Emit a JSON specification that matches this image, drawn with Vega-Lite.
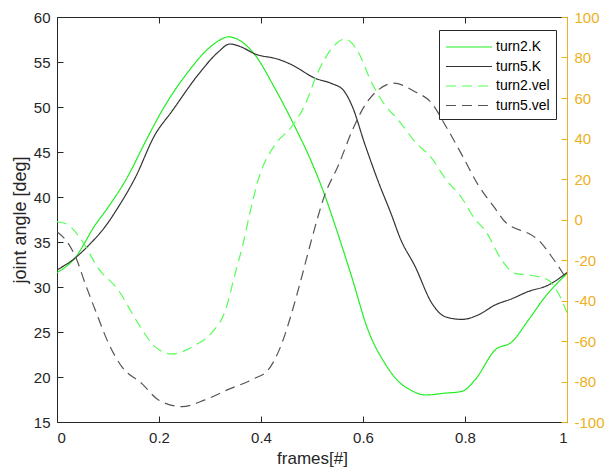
{
  "$schema": "https://vega.github.io/schema/vega-lite/v6.json",
  "width": 510,
  "height": 405,
  "autosize": "none",
  "padding": {"left": 57, "top": 17, "right": 38, "bottom": 49},
  "background": "white",
  "config": {
    "font": "Liberation Sans",
    "view": {"stroke": "#262626", "strokeWidth": 1},
    "axis": {
      "grid": false,
      "zindex": 1,
      "domain": false,
      "domainColor": "#262626",
      "tickColor": "#262626",
      "labelColor": "#262626",
      "titleColor": "#262626",
      "labelFontSize": 15,
      "titleFontSize": 17,
      "titleFontWeight": "normal",
      "tickSize": 6,
      "tickWidth": 1,
      "offset": -6,
      "labelPadding": 7,
      "labelExpr": "toString(datum.value)"
    },
    "legend": {
      "orient": "none",
      "legendX": 382,
      "legendY": 13,
      "strokeColor": "#262626",
      "fillColor": "white",
      "padding": 6,
      "symbolType": "M-1,0H3.6",
      "symbolSize": 400,
      "symbolStrokeWidth": 1.2,
      "labelFontSize": 14,
      "labelColor": "#000000",
      "labelOffset": 29,
      "rowPadding": 1.5,
      "zindex": 2
    }
  },
  "data": {
    "values": [
      {"series": "turn2.K", "frame": 0, "value": 31.6},
      {"series": "turn2.K", "frame": 0.035, "value": 33.2},
      {"series": "turn2.K", "frame": 0.075, "value": 36.9},
      {"series": "turn2.K", "frame": 0.097, "value": 38.6},
      {"series": "turn2.K", "frame": 0.137, "value": 42.1},
      {"series": "turn2.K", "frame": 0.173, "value": 46.1},
      {"series": "turn2.K", "frame": 0.205, "value": 49.5},
      {"series": "turn2.K", "frame": 0.257, "value": 53.9},
      {"series": "turn2.K", "frame": 0.297, "value": 56.5},
      {"series": "turn2.K", "frame": 0.318, "value": 57.4},
      {"series": "turn2.K", "frame": 0.336, "value": 57.8},
      {"series": "turn2.K", "frame": 0.355, "value": 57.5},
      {"series": "turn2.K", "frame": 0.37, "value": 56.9},
      {"series": "turn2.K", "frame": 0.388, "value": 55.8},
      {"series": "turn2.K", "frame": 0.427, "value": 52.1},
      {"series": "turn2.K", "frame": 0.463, "value": 48.2},
      {"series": "turn2.K", "frame": 0.499, "value": 43.9},
      {"series": "turn2.K", "frame": 0.525, "value": 40.2},
      {"series": "turn2.K", "frame": 0.545, "value": 36.9},
      {"series": "turn2.K", "frame": 0.578, "value": 31.1},
      {"series": "turn2.K", "frame": 0.61, "value": 25.2},
      {"series": "turn2.K", "frame": 0.643, "value": 21.5},
      {"series": "turn2.K", "frame": 0.668, "value": 19.6},
      {"series": "turn2.K", "frame": 0.695, "value": 18.5},
      {"series": "turn2.K", "frame": 0.722, "value": 18.0},
      {"series": "turn2.K", "frame": 0.76, "value": 18.2},
      {"series": "turn2.K", "frame": 0.794, "value": 18.4},
      {"series": "turn2.K", "frame": 0.82, "value": 19.7},
      {"series": "turn2.K", "frame": 0.859, "value": 23.0},
      {"series": "turn2.K", "frame": 0.892, "value": 23.9},
      {"series": "turn2.K", "frame": 0.924, "value": 26.3},
      {"series": "turn2.K", "frame": 0.957, "value": 28.9},
      {"series": "turn2.K", "frame": 1.0, "value": 31.5},
      {"series": "turn5.K", "frame": 0, "value": 31.9},
      {"series": "turn5.K", "frame": 0.035, "value": 33.2},
      {"series": "turn5.K", "frame": 0.065, "value": 34.8},
      {"series": "turn5.K", "frame": 0.097, "value": 36.9},
      {"series": "turn5.K", "frame": 0.117, "value": 38.6},
      {"series": "turn5.K", "frame": 0.153, "value": 42.1},
      {"series": "turn5.K", "frame": 0.192, "value": 46.9},
      {"series": "turn5.K", "frame": 0.225, "value": 49.5},
      {"series": "turn5.K", "frame": 0.277, "value": 53.6},
      {"series": "turn5.K", "frame": 0.316, "value": 56.1},
      {"series": "turn5.K", "frame": 0.339, "value": 57.0},
      {"series": "turn5.K", "frame": 0.36, "value": 56.7},
      {"series": "turn5.K", "frame": 0.388, "value": 55.9},
      {"series": "turn5.K", "frame": 0.434, "value": 55.3},
      {"series": "turn5.K", "frame": 0.46, "value": 54.7},
      {"series": "turn5.K", "frame": 0.506, "value": 53.2},
      {"series": "turn5.K", "frame": 0.539, "value": 52.6},
      {"series": "turn5.K", "frame": 0.561, "value": 51.9},
      {"series": "turn5.K", "frame": 0.578, "value": 50.2},
      {"series": "turn5.K", "frame": 0.604, "value": 45.8},
      {"series": "turn5.K", "frame": 0.63, "value": 41.7},
      {"series": "turn5.K", "frame": 0.656, "value": 38.0},
      {"series": "turn5.K", "frame": 0.673, "value": 35.4},
      {"series": "turn5.K", "frame": 0.702, "value": 32.3},
      {"series": "turn5.K", "frame": 0.735, "value": 28.2},
      {"series": "turn5.K", "frame": 0.761, "value": 26.7},
      {"series": "turn5.K", "frame": 0.794, "value": 26.4},
      {"series": "turn5.K", "frame": 0.826, "value": 26.9},
      {"series": "turn5.K", "frame": 0.859, "value": 28.0},
      {"series": "turn5.K", "frame": 0.892, "value": 28.7},
      {"series": "turn5.K", "frame": 0.924, "value": 29.5},
      {"series": "turn5.K", "frame": 0.963, "value": 30.2},
      {"series": "turn5.K", "frame": 1.0, "value": 31.6},
      {"series": "turn2.vel", "frame": 0, "value": -1},
      {"series": "turn2.vel", "frame": 0.022, "value": -2.7},
      {"series": "turn2.vel", "frame": 0.048, "value": -10.1},
      {"series": "turn2.vel", "frame": 0.081, "value": -24.1},
      {"series": "turn2.vel", "frame": 0.12, "value": -34.8},
      {"series": "turn2.vel", "frame": 0.159, "value": -51.3},
      {"series": "turn2.vel", "frame": 0.192, "value": -62.8},
      {"series": "turn2.vel", "frame": 0.225, "value": -66.4},
      {"series": "turn2.vel", "frame": 0.271, "value": -62.0},
      {"series": "turn2.vel", "frame": 0.305, "value": -55.5},
      {"series": "turn2.vel", "frame": 0.33, "value": -45},
      {"series": "turn2.vel", "frame": 0.349, "value": -27},
      {"series": "turn2.vel", "frame": 0.365, "value": -11.8},
      {"series": "turn2.vel", "frame": 0.378, "value": 3},
      {"series": "turn2.vel", "frame": 0.395, "value": 20},
      {"series": "turn2.vel", "frame": 0.427, "value": 36.8},
      {"series": "turn2.vel", "frame": 0.46, "value": 45.8},
      {"series": "turn2.vel", "frame": 0.486, "value": 56.5},
      {"series": "turn2.vel", "frame": 0.512, "value": 73.0},
      {"series": "turn2.vel", "frame": 0.539, "value": 84.5},
      {"series": "turn2.vel", "frame": 0.565, "value": 89.1},
      {"series": "turn2.vel", "frame": 0.59, "value": 82.9},
      {"series": "turn2.vel", "frame": 0.616, "value": 68.1},
      {"series": "turn2.vel", "frame": 0.643, "value": 56.5},
      {"series": "turn2.vel", "frame": 0.668, "value": 49.5},
      {"series": "turn2.vel", "frame": 0.702, "value": 38.4},
      {"series": "turn2.vel", "frame": 0.735, "value": 30.2},
      {"series": "turn2.vel", "frame": 0.761, "value": 20.3},
      {"series": "turn2.vel", "frame": 0.794, "value": 10.5},
      {"series": "turn2.vel", "frame": 0.82, "value": 0},
      {"series": "turn2.vel", "frame": 0.839, "value": -5.2},
      {"series": "turn2.vel", "frame": 0.872, "value": -20.0},
      {"series": "turn2.vel", "frame": 0.898, "value": -26.6},
      {"series": "turn2.vel", "frame": 0.937, "value": -27.9},
      {"series": "turn2.vel", "frame": 0.963, "value": -29.9},
      {"series": "turn2.vel", "frame": 0.983, "value": -36.4},
      {"series": "turn2.vel", "frame": 1.0, "value": -46},
      {"series": "turn5.vel", "frame": 0, "value": -6.0},
      {"series": "turn5.vel", "frame": 0.022, "value": -11.8},
      {"series": "turn5.vel", "frame": 0.039, "value": -20.0},
      {"series": "turn5.vel", "frame": 0.055, "value": -31.5},
      {"series": "turn5.vel", "frame": 0.075, "value": -44.7},
      {"series": "turn5.vel", "frame": 0.101, "value": -61.1},
      {"series": "turn5.vel", "frame": 0.127, "value": -72.7},
      {"series": "turn5.vel", "frame": 0.166, "value": -80.9},
      {"series": "turn5.vel", "frame": 0.199, "value": -89.1},
      {"series": "turn5.vel", "frame": 0.245, "value": -92.4},
      {"series": "turn5.vel", "frame": 0.29, "value": -89.1},
      {"series": "turn5.vel", "frame": 0.335, "value": -84},
      {"series": "turn5.vel", "frame": 0.388, "value": -78.4},
      {"series": "turn5.vel", "frame": 0.414, "value": -74.3},
      {"series": "turn5.vel", "frame": 0.441, "value": -61.1},
      {"series": "turn5.vel", "frame": 0.46, "value": -46.3},
      {"series": "turn5.vel", "frame": 0.48, "value": -28.2},
      {"series": "turn5.vel", "frame": 0.499, "value": -10.1},
      {"series": "turn5.vel", "frame": 0.525, "value": 12.1},
      {"series": "turn5.vel", "frame": 0.552, "value": 26.9},
      {"series": "turn5.vel", "frame": 0.578, "value": 43.4},
      {"series": "turn5.vel", "frame": 0.604, "value": 56.5},
      {"series": "turn5.vel", "frame": 0.63, "value": 64.0},
      {"series": "turn5.vel", "frame": 0.66, "value": 67.3},
      {"series": "turn5.vel", "frame": 0.702, "value": 63.1},
      {"series": "turn5.vel", "frame": 0.735, "value": 57.4},
      {"series": "turn5.vel", "frame": 0.761, "value": 46.7},
      {"series": "turn5.vel", "frame": 0.794, "value": 31.9},
      {"series": "turn5.vel", "frame": 0.826, "value": 17.0},
      {"series": "turn5.vel", "frame": 0.859, "value": 5.5},
      {"series": "turn5.vel", "frame": 0.878, "value": -1},
      {"series": "turn5.vel", "frame": 0.892, "value": -3.6},
      {"series": "turn5.vel", "frame": 0.924, "value": -6.8},
      {"series": "turn5.vel", "frame": 0.944, "value": -10.1},
      {"series": "turn5.vel", "frame": 0.97, "value": -18.4},
      {"series": "turn5.vel", "frame": 0.99, "value": -25.8},
      {"series": "turn5.vel", "frame": 1.0, "value": -29.9}
    ]
  },
  "layer": [
    {
      "transform": [{"filter": {"field": "series", "oneOf": ["turn2.K", "turn5.K"]}}],
      "mark": {"type": "line", "interpolate": "monotone", "strokeWidth": 1.2, "clip": true},
      "encoding": {
        "x": {
          "field": "frame", "type": "quantitative",
          "scale": {"domain": [0, 1], "nice": false},
          "axis": {"orient": "bottom", "values": [0, 0.2, 0.4, 0.6, 0.8, 1], "title": "frames[#]", "titlePadding": 5, "labelPadding": 8}
        },
        "y": {
          "field": "value", "type": "quantitative",
          "scale": {"domain": [15, 60], "nice": false, "zero": false},
          "axis": {"orient": "left", "values": [15, 20, 25, 30, 35, 40, 45, 50, 55, 60], "title": "joint angle [deg]", "titleFontSize": 18, "titlePadding": 4}
        },
        "color": {
          "field": "series", "type": "nominal", "title": null,
          "scale": {"domain": ["turn2.K", "turn5.K", "turn2.vel", "turn5.vel"], "range": ["#22ee22", "#333333", "#55ff55", "#555555"]}
        },
        "strokeDash": {
          "field": "series", "type": "nominal", "title": null,
          "scale": {"domain": ["turn2.K", "turn5.K", "turn2.vel", "turn5.vel"], "range": [[1, 0], [1, 0], [10, 6], [10, 6]]}
        }
      }
    },
    {
      "transform": [{"filter": {"field": "series", "oneOf": ["turn2.vel", "turn5.vel"]}}],
      "mark": {"type": "line", "interpolate": "monotone", "strokeWidth": 1.2, "clip": true},
      "encoding": {
        "x": {
          "field": "frame", "type": "quantitative",
          "scale": {"domain": [0, 1], "nice": false},
          "axis": {"orient": "top", "values": [0, 0.2, 0.4, 0.6, 0.8, 1], "labels": false, "title": null}
        },
        "y": {
          "field": "value", "type": "quantitative",
          "scale": {"domain": [-100, 100], "nice": false},
          "axis": {"orient": "right", "values": [-100, -80, -60, -40, -20, 0, 20, 40, 60, 80, 100], "title": null,
            "offset": 0, "ticks": false, "domain": true,
            "domainColor": "#EDB120", "labelColor": "#EDB120", "labelPadding": 7}
        },
        "color": {"field": "series", "type": "nominal", "title": null},
        "strokeDash": {"field": "series", "type": "nominal", "title": null}
      }
    },
    {
      "transform": [{"filter": {"field": "series", "oneOf": ["turn2.vel", "turn5.vel"]}}],
      "mark": {"type": "line", "opacity": 0, "color": "#EDB120", "clip": true},
      "encoding": {
        "x": {
          "field": "frame", "type": "quantitative",
          "scale": {"domain": [0, 1], "nice": false},
          "axis": null
        },
        "y": {
          "field": "value", "type": "quantitative",
          "scale": {"domain": [-100, 100], "nice": false},
          "axis": {"orient": "right", "values": [-100, -80, -60, -40, -20, 0, 20, 40, 60, 80, 100], "title": null,
            "labels": false, "tickColor": "#EDB120"}
        },
        "detail": {"field": "series", "type": "nominal"}
      }
    }
  ],
  "resolve": {"scale": {"y": "independent"}, "axis": {"x": "independent"}}
}
